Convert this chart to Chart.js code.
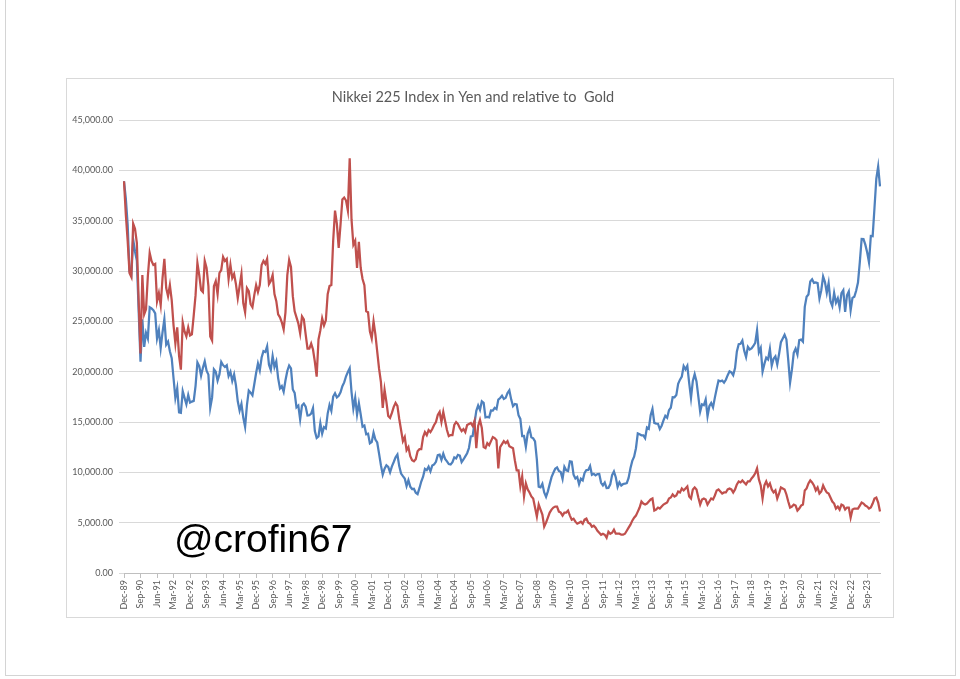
<!DOCTYPE html>
<html>
<head>
<meta charset="utf-8">
<title>Nikkei 225 Index in Yen and relative to Gold</title>
<script src="https://cdn.jsdelivr.net/npm/chart.js@4.4.1/dist/chart.umd.min.js"></script>
<style>
	html, body { margin: 0; padding: 0; background: #fff; }
	body { width: 960px; height: 679px; position: relative; overflow: hidden; }
	#page { position: absolute; left: 5px; top: -2px; width: 949px; height: 677px; border: 1px solid #d4d4d4; border-top: none; }
	#frame { position: absolute; left: 66px; top: 78px; width: 826px; height: 538px; border: 1px solid #d9d9d9; }
	#chart { position: absolute; left: 0; top: 0; }
	#tag { position: absolute; left: 174px; top: 517px; font-family: 'Liberation Sans', Arial, sans-serif; font-size: 39px; color: #000; }
</style>
</head>
<body>
<div id="page"></div>
<div id="frame"></div>
<canvas id="chart" width="960" height="679"></canvas>
<div id="tag">@crofin67</div>
<script>
// monthly closes, Dec-89 .. Apr-24
const startYear = 1989;
const startMonth = 11;	// December
const monthNames = ['Jan', 'Feb', 'Mar', 'Apr', 'May', 'Jun', 'Jul', 'Aug', 'Sep', 'Oct', 'Nov', 'Dec'];
const labelStep = 9;	// one axis label every 9 months

// Nikkei 225 in yen
const nikkeiYen = [
	38916,
	37189, 34591, 29980, 29585, 33131, 31940, 31036, 25978, 20984, 25194, 22455, 23849,
	23293, 26409, 26292, 26111, 25790, 23291, 24121, 22336, 23916, 25222, 22687, 22984,
	22023, 21339, 19346, 17391, 18348, 15952, 15910, 18061, 17399, 16767, 17684, 16925,
	17024, 17098, 18591, 20919, 20552, 19591, 20380, 21027, 20106, 19703, 16408, 17417,
	20229, 19997, 19112, 19725, 20974, 20644, 20462, 20629, 19564, 19990, 19076, 19723,
	18650, 17053, 16140, 16807, 15437, 14517, 16678, 18117, 17913, 17655, 18744, 19868,
	20813, 20125, 21407, 22041, 21956, 22531, 20693, 20167, 21556, 20467, 21020, 19361,
	18330, 18557, 18003, 19151, 20069, 20605, 20331, 18229, 17888, 16459, 16636, 15259,
	16628, 16832, 16527, 15641, 15671, 15830, 16379, 14108, 13406, 13565, 14884, 13842,
	14499, 14368, 15837, 16701, 16112, 17530, 17862, 17437, 17605, 17942, 18558, 18934,
	19540, 19960, 20337, 17974, 16332, 17411, 15727, 16861, 15747, 14540, 14649, 13786,
	13844, 12884, 12999, 13934, 13262, 12969, 11861, 10714, 9775, 10367, 10697, 10543,
	9998, 10588, 11025, 11493, 11764, 10622, 9878, 9619, 9383, 8640, 9216, 8579,
	8340, 8363, 7973, 7831, 8425, 9083, 9563, 10344, 10219, 10560, 10101, 10677,
	10784, 11042, 11715, 11762, 11236, 11859, 11326, 11082, 10824, 10771, 11013, 11489,
	11388, 11741, 11669, 11009, 11277, 11584, 11900, 12414, 13574, 13607, 14872, 16111,
	16650, 16205, 17060, 16906, 15467, 15505, 15457, 16141, 16128, 16399, 16274, 17226,
	17383, 17604, 17288, 17400, 17876, 18138, 17249, 16569, 16786, 16738, 15681, 15308,
	13592, 13604, 12526, 13850, 14339, 13481, 13377, 13073, 11260, 8577, 8512, 8860,
	7994, 7568, 8110, 8828, 9523, 9958, 10357, 10493, 10133, 10035, 9345, 10546,
	10198, 10126, 11090, 11057, 9769, 9383, 9537, 8824, 9369, 9202, 9937, 10229,
	10238, 10624, 9755, 9850, 9694, 9816, 9833, 8955, 8700, 8988, 8435, 8455,
	8803, 9723, 10084, 9521, 8543, 9007, 8695, 8840, 8870, 8928, 9446, 10395,
	11139, 11559, 12398, 13861, 13775, 13677, 13668, 13389, 14456, 14328, 15662, 16291,
	14915, 14841, 14828, 14304, 14632, 15162, 15621, 15425, 16174, 16414, 17460, 17451,
	17674, 18798, 19207, 19520, 20563, 20236, 20585, 18890, 17388, 19083, 19747, 19034,
	17518, 16027, 16759, 16666, 17235, 15576, 16569, 16887, 16450, 17425, 18308, 19114,
	19041, 19119, 18909, 19197, 19651, 20033, 19925, 19646, 20356, 22012, 22725, 22765,
	23098, 22068, 21454, 22468, 22202, 22305, 22554, 22865, 24120, 21920, 22351, 20015,
	20773, 21385, 21206, 22259, 20601, 21276, 21522, 20704, 21756, 22927, 23294, 23657,
	23205, 21143, 18917, 20194, 21878, 22288, 21710, 23140, 23185, 22977, 26434, 27444,
	27663, 28966, 29179, 28813, 28860, 28792, 27284, 28090, 29453, 28893, 27822, 28792,
	27002, 26527, 27821, 26848, 27280, 26393, 27802, 28092, 25937, 27587, 27969, 26095,
	27327, 27446, 28041, 28856, 30888, 33189, 33172, 32619, 31858, 30859, 33487, 33464,
	36287, 39166, 40369, 38406
];

// Nikkei 225 priced in gold, rebased to the Dec-89 yen level
const nikkeiGold = [
	38916,
	35600, 33000, 29800, 29400, 34700, 34200, 32800, 27000, 21800, 29600, 25700, 26200,
	29500, 31800, 31000, 30600, 30700, 27000, 27800, 26600, 29300, 31200, 28300, 27500,
	28600, 27100, 24600, 22800, 24400, 21600, 20200, 24900, 24000, 23500, 24400, 23600,
	23700, 25600, 27600, 30800, 29600, 28100, 27900, 31000, 30300, 28500, 23500, 23100,
	28500, 29000, 27700, 29800, 30100, 31400, 31000, 31200, 29200, 30600, 29300, 29700,
	28700, 27300, 28500, 29700, 26800, 25900, 28300, 28000, 26700, 26400, 27600, 28600,
	27900, 28600, 30600, 31000, 30700, 31200, 28700, 29000, 29600, 27700, 27000, 25700,
	25400, 24900, 24200, 25900, 29600, 31100, 30400, 27500, 26000, 25400, 24800, 23800,
	25500, 25200, 23700, 22300, 22300, 22800, 22200, 21000, 19500, 23200, 24100, 25300,
	24600, 25100, 27700, 28500, 28600, 33000, 36000, 34700, 32300, 34600, 37100, 37300,
	37000, 36000, 41200, 35100, 32600, 33000, 30300, 32900, 30300, 29200, 28600, 26000,
	25900, 24000, 23300, 25000, 23700, 22000, 20300, 19000, 16400, 18200, 17000, 15600,
	15400, 15900, 16500, 16900, 16600, 15300, 14200, 13100, 13500, 12200, 12500, 11600,
	11200, 11100, 11300, 12100, 12300, 12300, 13500, 14000, 13700, 14200, 14000, 14300,
	14700, 15000, 15700, 16000, 15000, 16000, 15100, 14200, 13600, 13700, 13700, 14700,
	15000, 14800, 14400, 14100, 14300, 14000, 14700, 14800, 14900, 14600, 15100, 12400,
	14600, 15200, 14400, 12500, 12400, 12900, 12700, 13100, 13500, 13400, 13200, 10400,
	12500, 12800, 13100, 12900, 13100, 12600, 12500, 12400, 11200, 10200, 10200, 8600,
	9600, 7600, 8900, 8300, 8000, 7600, 7400, 6500, 5600, 6800, 6300, 5800,
	4600, 5000, 5500, 6000, 6300, 6500, 6600, 6600, 6100, 6000, 5700, 6000,
	6000, 6200, 5700, 5300, 5400, 5100, 4900, 5000, 5100, 4900, 5300, 5400,
	5000, 4900, 4600, 4700, 4500, 4200, 4000, 3800, 3900, 3800, 3500, 4100,
	3900, 4000, 4300, 3900, 3900, 3900, 3800, 3800, 3900, 4200, 4500, 4800,
	5200, 5500, 5700, 6100, 6500, 7100, 6900, 6800, 6900, 7100, 7300, 7400,
	6200, 6300, 6500, 6400, 6600, 6800, 6900, 7000, 7400, 7500, 7800, 7600,
	7700, 8100, 8000, 8400, 8200, 8400, 8600, 7600, 7400, 8300, 8500, 8300,
	7500, 6800, 7300, 7400, 7300, 6800, 7100, 7400, 7300, 7700, 8200, 8300,
	8100, 7900, 8000, 8000, 8300, 8400, 8300, 8000, 8300, 8800, 9100, 9000,
	9200, 9000, 8800, 9100, 9100, 9400, 9600, 9900, 10400, 9300, 8700, 7400,
	8700, 9100, 8600, 8900, 8300, 8000, 8200, 7400, 7900, 8500, 8400, 8300,
	7800, 7100, 6500, 6600, 6800, 6700, 6200, 6400, 6700, 6800, 8200, 8400,
	8900, 9200, 9000, 8700, 8200, 8500, 7900, 8100, 8700, 8300, 8000, 7900,
	7500, 7100, 6900, 6400, 6600, 6300, 6800, 6700, 6300, 6500, 6500, 5500,
	6300, 6400, 6400, 6400, 6700, 7000, 6900, 6700, 6600, 6400, 6500, 6900,
	7400, 7500, 7000, 6100
];

const yTicks = [0, 5000, 10000, 15000, 20000, 25000, 30000, 35000, 40000, 45000];

const categories = [];
for (let i = 0; i < nikkeiYen.length; i++) {
	const m = (startMonth + i) % 12;
	const y = startYear + Math.floor((startMonth + i) / 12);
	categories.push(monthNames[m] + '-' + String(y % 100).padStart(2, '0'));
}

const font = 'Lato, "Open Sans", sans-serif';
const grey = '#595959';

const ctx = document.getElementById('chart').getContext('2d');

new Chart(ctx, {
	type: 'line',
	data: {
		labels: categories,
		datasets: [{
			label: 'Nikkei 225 relative to Gold',
			data: nikkeiGold,
			borderColor: '#c0504d',
			borderWidth: 2.25,
			pointRadius: 0,
			fill: false
		}, {
			label: 'Nikkei 225 in Yen',
			data: nikkeiYen,
			borderColor: '#4f81bd',
			borderWidth: 2.25,
			pointRadius: 0,
			fill: false
		}]
	},
	options: {
		responsive: false,
		animation: false,
		devicePixelRatio: 1,
		layout: { padding: { left: 66, right: 80, top: 80, bottom: 61 } },
		plugins: {
			legend: { display: false },
			tooltip: { enabled: false },
			title: {
				display: true,
				text: 'Nikkei 225 Index in Yen and relative to  Gold',
				color: grey,
				font: { family: font, size: 14.5, weight: 'normal' },
				padding: { top: 8.3, bottom: 14.3 }
			}
		},
		scales: {
			x: {
				type: 'category',
				grid: { drawOnChartArea: false, tickLength: 5, color: '#bfbfbf' },
				border: { display: true, color: '#bfbfbf' },
				ticks: {
					autoSkip: false,
					minRotation: 90,
					maxRotation: 90,
					padding: 2,
					color: grey,
					font: { family: font, size: 9 }
				},
				afterBuildTicks: (scale) => {
					scale.ticks = scale.ticks.filter(t => t.value % labelStep === 0);
				},
				afterFit: (scale) => { scale.height = 45; }
			},
			y: {
				min: 0,
				max: 45000,
				afterBuildTicks: (scale) => {
					scale.ticks = yTicks.map(v => ({ value: v }));
				},
				ticks: {
					padding: 6,
					color: grey,
					font: { family: font, size: 9 },
					callback: (v) => v.toLocaleString('en-US', { minimumFractionDigits: 2, maximumFractionDigits: 2 })
				},
				grid: { color: '#d9d9d9', tickLength: 5 },
				border: { display: false },
				afterFit: (scale) => { scale.width = 58; }
			}
		}
	}
});
</script>
</body>
</html>
